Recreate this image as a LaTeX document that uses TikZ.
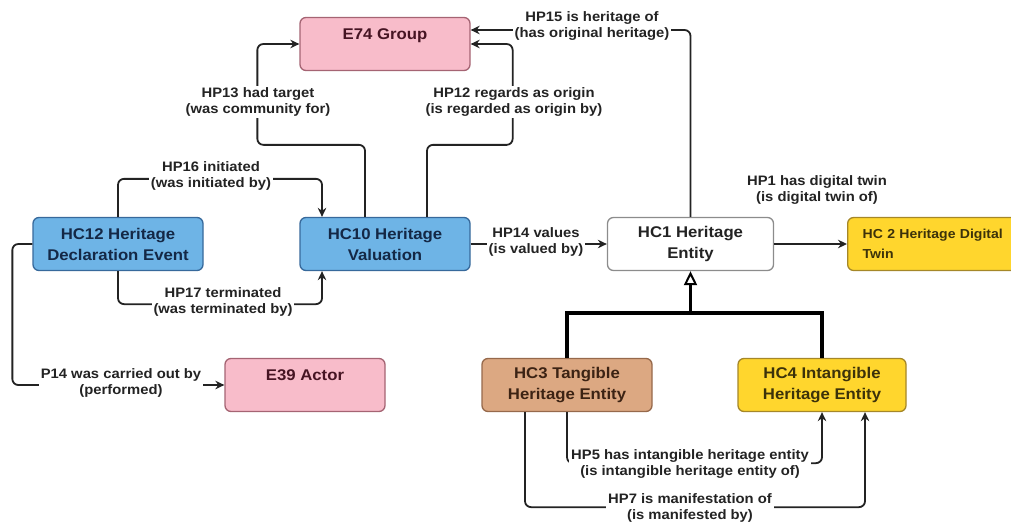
\documentclass[tikz,border=0pt]{standalone}
\usepackage{fontspec}
\setmainfont{Liberation Sans}[FakeStretch=1.08]
\usetikzlibrary{arrows.meta}

\definecolor{pinkfill}{RGB}{248,188,202}
\definecolor{pinkline}{RGB}{165,100,115}
\definecolor{pinktext}{RGB}{70,20,35}
\definecolor{bluefill}{RGB}{110,180,230}
\definecolor{blueline}{RGB}{55,105,155}
\definecolor{bluetext}{RGB}{20,40,70}
\definecolor{yelfill}{RGB}{255,214,45}
\definecolor{yelline}{RGB}{165,135,40}
\definecolor{yeltext}{RGB}{60,50,10}
\definecolor{tanfill}{RGB}{220,168,130}
\definecolor{tanline}{RGB}{150,105,75}
\definecolor{tantext}{RGB}{60,35,20}
\definecolor{greyline}{RGB}{140,140,140}
\definecolor{ink}{RGB}{35,35,35}

\begin{document}
\begin{tikzpicture}[x=1pt,y=-1pt,
  box/.style={draw, rounded corners=6pt, line width=1.3pt, minimum width=170pt,
    minimum height=53pt, align=center, inner sep=3pt,
    font=\bfseries\fontsize{15.5}{21}\selectfont},
  toptext/.style={text depth=19pt},
  pinkbox/.style={box, fill=pinkfill, draw=pinkline, text=pinktext},
  bluebox/.style={box, fill=bluefill, draw=blueline, text=bluetext},
  yelbox/.style={box, fill=yelfill, draw=yelline, text=yeltext},
  tanbox/.style={box, fill=tanfill, draw=tanline, text=tantext},
  whitebox/.style={box, fill=white, draw=greyline, text=ink},
  lbl/.style={fill=white, inner xsep=2pt, inner ysep=1pt, align=center, text=ink,
    font=\bfseries\fontsize{13.7}{16.5}\selectfont},
  edge/.style={draw=ink, line width=1.8pt, rounded corners=6pt,
    -{Stealth[length=9pt,width=8.5pt]}},
  isa/.style={draw=black, line width=3.2pt},
  isatip/.style={isa, -{Triangle[open,length=14pt,width=13pt,line width=2pt]}}
]
\useasboundingbox (0,0) rectangle (1011,522);

% classes
\node[pinkbox, toptext] (e74)  at (385,44)  {E74 Group};
\node[bluebox]          (hc12) at (118,244) {HC12 Heritage\\Declaration Event};
\node[bluebox]          (hc10) at (385,244) {HC10 Heritage\\Valuation};
\node[whitebox, minimum width=166pt] (hc1) at (690.5,244) {HC1 Heritage\\Entity};
\node[yelbox, anchor=west, align=left, text width=175pt, inner xsep=15pt,
      font=\bfseries\fontsize{13}{20}\selectfont]
      (hc2) at (847,244) {HC 2 Heritage Digital\\Twin};
\node[pinkbox, toptext, minimum width=160pt] (e39) at (305,385) {E39 Actor};
\node[tanbox]           (hc3)  at (567,385) {HC3 Tangible\\Heritage Entity};
\node[yelbox, minimum width=168pt] (hc4) at (822,385) {HC4 Intangible\\Heritage Entity};

% properties
\draw[edge] ([xshift=-20pt]hc10.north) -- ++(0,-72) -| ([xshift=-42pt]e74.west) -- (e74.west);
\draw[edge] ([xshift=42pt]hc10.north) -- ++(0,-72) -| ([xshift=42pt]e74.east) -- (e74.east);
\draw[edge] (hc1.north) |- ([yshift=14pt]e74.east);
\draw[edge] (hc12.north) -- ++(0,-38) -| ([xshift=-63pt]hc10.north);
\draw[edge] (hc12.south) -- ++(0,33) -| ([xshift=-63pt]hc10.south);
\draw[edge] (hc10.east) -- (hc1.west);
\draw[edge] (hc1.east) -- (hc2.west);
\draw[edge] (hc12.west) -- ++(-20,0) |- (e39.west);
\draw[edge] (hc3.south) -- ++(0,51) -| (hc4.south);
\draw[edge] ([xshift=-42pt]hc3.south) -- ++(0,95) -| ([xshift=43pt]hc4.south);

% subclass hierarchy
\coordinate (isajoin) at (690.5,313);
\draw[isa] (hc3.north) |- (isajoin) -| (hc4.north);
\draw[isatip] (isajoin) -- (hc1.south);

% property labels
\node[lbl] (l13) at (258,102) {HP13 had target\\(was community for)};
\node[lbl] (l12) at (514,102) {HP12 regards as origin\\(is regarded as origin by)};
\node[lbl] (l15) at (592,26)  {HP15 is heritage of\\(has original heritage)};
\node[lbl] (l16) at (211,176) {HP16 initiated\\(was initiated by)};
\node[lbl] (l17) at (223,302) {HP17 terminated\\(was terminated by)};
\node[lbl] (l14) at (536,242) {HP14 values\\(is valued by)};
\node[lbl] (l1)  at (817,190) {HP1 has digital twin\\(is digital twin of)};
\node[lbl] (lp14) at (121,383) {P14 was carried out by\\(performed)};
\node[lbl] (l5)  at (690,464) {HP5 has intangible heritage entity\\(is intangible heritage entity of)};
\node[lbl] (l7)  at (690,508) {HP7 is manifestation of\\(is manifested by)};
\end{tikzpicture}
\end{document}
